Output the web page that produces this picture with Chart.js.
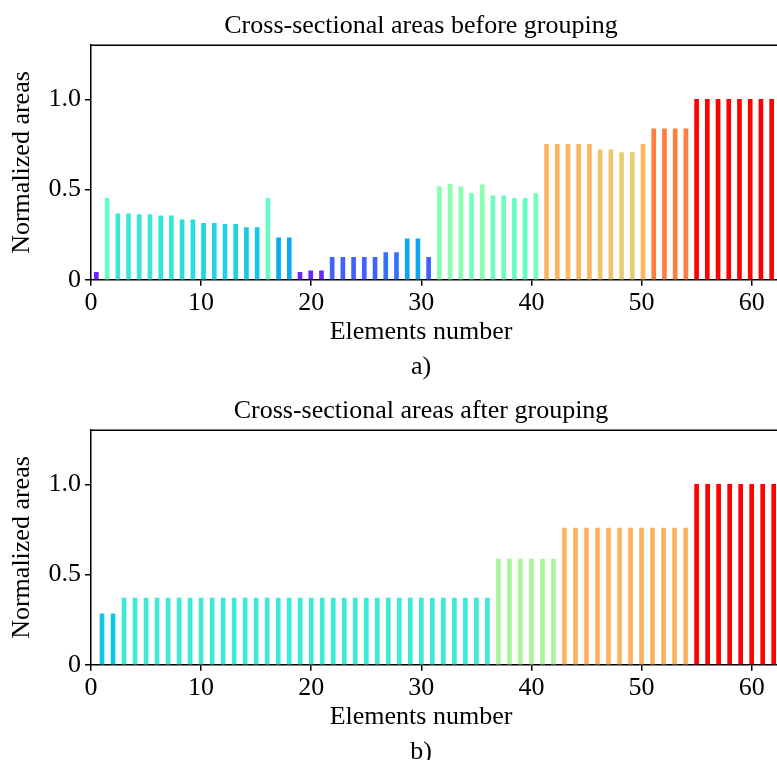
<!DOCTYPE html>
<html>
<head>
<meta charset="utf-8">
<script src="https://cdn.jsdelivr.net/npm/chart.js@4.4.1/dist/chart.umd.min.js"></script>
<style>
  html, body { margin: 0; padding: 0; background: #fff; overflow: hidden; }
  #page { position: relative; width: 777px; height: 760px; overflow: hidden; }
  canvas { position: absolute; left: 0; }
</style>
</head>
<body>
<div id="page">
  <canvas id="before-chart" width="842" height="385" style="top:0"></canvas>
  <canvas id="after-chart" width="842" height="385" style="top:385px"></canvas>
</div>
<script>
// a) before grouping
const elementsBefore = [1, 2, 3, 4, 5, 6, 7, 8, 9, 10, 11, 12, 13, 14, 15, 16,
    17, 18, 19, 20, 21, 22, 23, 24, 25, 26, 27, 28, 29, 30, 31, 32,
    33, 34, 35, 36, 37, 38, 39, 40, 41, 42, 43, 44, 45, 46, 47, 48,
    49, 50, 51, 52, 53, 54, 55, 56, 57, 58, 59, 60, 61, 62, 63, 64];
const areasBefore = [0.042, 0.451, 0.365, 0.365, 0.362, 0.362, 0.354, 0.354,
    0.333, 0.333, 0.313, 0.313, 0.308, 0.308, 0.289, 0.289,
    0.451, 0.232, 0.232, 0.042, 0.05, 0.05, 0.125, 0.125,
    0.125, 0.125, 0.125, 0.151, 0.151, 0.227, 0.227, 0.125,
    0.517, 0.529, 0.517, 0.478, 0.526, 0.465, 0.465, 0.451,
    0.451, 0.478, 0.751, 0.751, 0.751, 0.751, 0.751, 0.72,
    0.72, 0.705, 0.705, 0.751, 0.837, 0.837, 0.837, 0.837,
    1.0, 1.0, 1.0, 1.0, 1.0, 1.0, 1.0, 1.0];

// b) after grouping
const elementsAfter = [1, 2, 3, 4, 5, 6, 7, 8, 9, 10, 11, 12, 13, 14, 15, 16,
    17, 18, 19, 20, 21, 22, 23, 24, 25, 26, 27, 28, 29, 30, 31, 32,
    33, 34, 35, 36, 37, 38, 39, 40, 41, 42, 43, 44, 45, 46, 47, 48,
    49, 50, 51, 52, 53, 54, 55, 56, 57, 58, 59, 60, 61, 62];
const areasAfter = [0.282, 0.282, 0.37, 0.37, 0.37, 0.37, 0.37, 0.37,
    0.37, 0.37, 0.37, 0.37, 0.37, 0.37, 0.37, 0.37,
    0.37, 0.37, 0.37, 0.37, 0.37, 0.37, 0.37, 0.37,
    0.37, 0.37, 0.37, 0.37, 0.37, 0.37, 0.37, 0.37,
    0.37, 0.37, 0.37, 0.37, 0.586, 0.586, 0.586, 0.586,
    0.586, 0.586, 0.757, 0.757, 0.757, 0.757, 0.757, 0.757,
    0.757, 0.757, 0.757, 0.757, 0.757, 0.757, 1.0, 1.0,
    1.0, 1.0, 1.0, 1.0, 1.0, 1.0];

const xTicks = [0, 10, 20, 30, 40, 50, 60];
const yTicks = [0, 0.5, 1.0];
const yTickLabels = ['0', '0.5', '1.0'];

// matplotlib 'rainbow' colormap
function rainbow( v )
{
    const clip = c => Math.round( Math.min( 1, Math.max( 0, c ) ) * 255 );
    const r = clip( Math.abs( 2 * v - 0.5 ) );
    const g = clip( Math.sin( Math.PI * v ) );
    const b = clip( Math.cos( Math.PI * v / 2 ) );
    return 'rgb(' + r + ',' + g + ',' + b + ')';
}

Chart.defaults.font.family = "'Liberation Serif', 'Times New Roman', serif";
Chart.defaults.font.size = 26;
Chart.defaults.color = '#000';

// top spine of the axes box
const topSpine = {
    id: 'topSpine',
    afterDraw( chart ) {
        const { ctx, chartArea } = chart;
        ctx.save();
        ctx.strokeStyle = '#000';
        ctx.lineWidth = 1.5;
        ctx.beginPath();
        ctx.moveTo( chartArea.left, chartArea.top );
        ctx.lineTo( chartArea.right, chartArea.top );
        ctx.stroke();
        ctx.restore();
    }
};

const axisLine = { display: true, color: '#000', width: 1.5 };
const tickMarks = { display: true, drawOnChartArea: false, drawTicks: true, tickLength: 6, color: '#000', lineWidth: 1.5, offset: false };

function yAxis()
{
    return {
        type: 'linear',
        position: 'left',
        min: 0,
        max: 1.3,
        border: axisLine,
        grid: tickMarks,
        afterBuildTicks: scale => { scale.ticks = yTicks.map( v => ( { value: v } ) ); },
        afterFit: scale => { scale.width = 91; },
        ticks: { padding: 4, callback: ( value, index ) => yTickLabels[index] },
        title: { display: true, text: 'Normalized areas', padding: { top: 7, bottom: 0 } }
    };
}

function numberAxis()
{
    return {
        type: 'linear',
        position: 'bottom',
        min: 0,
        max: 62.3,
        offset: false,
        border: axisLine,
        grid: tickMarks,
        afterBuildTicks: scale => { scale.ticks = xTicks.map( v => ( { value: v } ) ); },
        afterFit: scale => { scale.height = 35; },
        ticks: { padding: 2, maxRotation: 0, autoSkip: false }
    };
}

// empty box on the right so the cropped axes end at the window edge
const rightPad = {
    axis: 'y',
    type: 'linear',
    position: 'right',
    ticks: { display: false },
    grid: { display: false },
    border: { display: false },
    afterFit: scale => { scale.width = 65; }
};

function chartOptions( title, caption, xScales )
{
    return {
        responsive: false,
        animation: false,
        devicePixelRatio: 1,
        layout: { padding: 0 },
        plugins: {
            legend: { display: false },
            tooltip: { enabled: false },
            title: {
                display: true,
                text: title,
                padding: { top: 11, bottom: 3 },
                font: { size: 26, weight: 'normal', lineHeight: 1.2 }
            },
            subtitle: {
                display: true,
                position: 'bottom',
                text: ['Elements number', caption],
                padding: 0,
                font: { size: 26, weight: 'normal', lineHeight: 1.35 }
            }
        },
        scales: Object.assign( {}, xScales, { y: yAxis(), pad: rightPad } )
    };
}

function displayBeforeGrouping()
{
    const ctx = document.getElementById('before-chart').getContext('2d');
    new Chart( ctx, {
        type: 'bar',
        data: {
            labels: elementsBefore,
            datasets: [{
                data: areasBefore,
                backgroundColor: areasBefore.map( rainbow ),
                barThickness: 4,
                xAxisID: 'x',
                yAxisID: 'y'
            }]
        },
        options: chartOptions( 'Cross-sectional areas before grouping', 'a)', {
            x: { type: 'category', display: false, offset: true },
            xNum: numberAxis()
        } ),
        plugins: [topSpine]
    });
}

function displayAfterGrouping()
{
    const ctx = document.getElementById('after-chart').getContext('2d');
    new Chart( ctx, {
        type: 'bar',
        data: {
            labels: elementsAfter,
            datasets: [{
                data: areasAfter,
                backgroundColor: areasAfter.map( rainbow ),
                barThickness: 4,
                xAxisID: 'x',
                yAxisID: 'y'
            }]
        },
        options: chartOptions( 'Cross-sectional areas after grouping', 'b)', {
            x: numberAxis()
        } ),
        plugins: [topSpine]
    });
}

displayBeforeGrouping();
displayAfterGrouping();
</script>
</body>
</html>
